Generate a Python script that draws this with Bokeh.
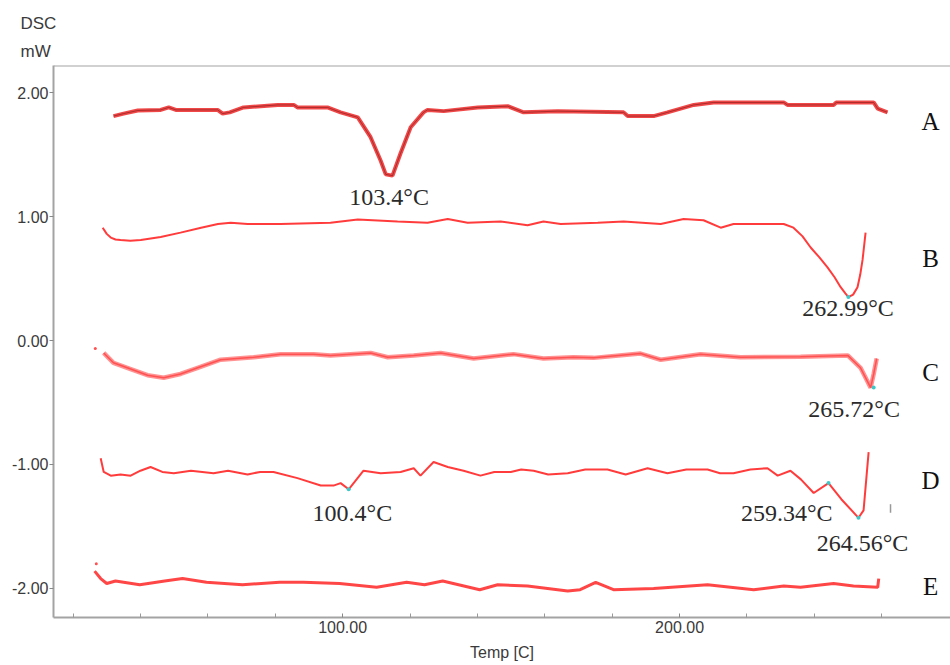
from bokeh.plotting import figure
from bokeh.models import Range1d, FixedTicker, PrintfTickFormatter, Span, Title
from bokeh.core.properties import value
from bokeh.embed import file_html
from bokeh.resources import INLINE

# ---------------- data (Temp [C], DSC mW) ----------------
a_temp = [32.0, 35.0, 39.2, 46.0, 48.4, 50.5, 62.9, 64.4, 66.5, 70.6, 80.7, 85.5, 86.6, 95.5, 99.4,
          104.5, 108.3, 111.3, 112.8, 114.8, 117.2, 120.2, 124.0, 125.2, 130.0, 140.1, 149.0, 153.7,
          163.8, 183.4, 184.6, 192.3, 196.4, 204.2, 210.1, 230.9, 232.0, 245.7, 246.5, 257.6, 258.8, 261.7]
a_mw = [1.81, 1.83, 1.855, 1.86, 1.88, 1.86, 1.86, 1.83, 1.84, 1.88, 1.90, 1.90, 1.88, 1.88, 1.84,
        1.80, 1.64, 1.45, 1.34, 1.33, 1.51, 1.72, 1.84, 1.86, 1.85, 1.88, 1.89, 1.84,
        1.85, 1.84, 1.81, 1.81, 1.84, 1.90, 1.92, 1.92, 1.90, 1.90, 1.92, 1.92, 1.87, 1.84]

b_temp = [28.8, 30.0, 31.2, 32.6, 34.1, 37.0, 40.1, 46.0, 51.9, 58.0, 63.0, 66.8, 71.8, 81.6, 96.4,
          104.5, 116.3, 125.2, 131.2, 137.1, 146.9, 154.9, 159.6, 164.7, 175.7, 183.4, 194.4, 201.2,
          207.1, 212.2, 216.0, 230.9, 233.8, 236.5, 238.9, 241.5, 243.9, 246.0, 247.8, 249.2, 250.1,
          251.5, 252.8, 253.6, 254.3, 255.2]
b_mw = [0.91, 0.86, 0.83, 0.815, 0.81, 0.805, 0.81, 0.835, 0.87, 0.91, 0.94, 0.95, 0.94, 0.94, 0.95,
        0.976, 0.96, 0.95, 0.98, 0.95, 0.96, 0.93, 0.96, 0.94, 0.95, 0.96, 0.94, 0.98,
        0.97, 0.91, 0.94, 0.94, 0.91, 0.84, 0.75, 0.67, 0.59, 0.51, 0.43, 0.38, 0.35,
        0.37, 0.43, 0.53, 0.65, 0.87]

c_temp = [29.1, 32.0, 37.1, 42.1, 46.9, 51.9, 57.0, 63.8, 73.6, 81.6, 91.4, 96.4, 108.3, 113.4,
          121.1, 129.1, 138.9, 150.7, 159.6, 168.5, 174.5, 188.4, 194.4, 206.2, 218.1, 235.9,
          249.9, 253.7, 256.7, 257.6, 258.5]
c_mw = [-0.10, -0.18, -0.23, -0.28, -0.30, -0.27, -0.22, -0.155, -0.135, -0.11, -0.11, -0.12, -0.10,
        -0.135, -0.12, -0.10, -0.145, -0.11, -0.145, -0.135, -0.14, -0.105, -0.155, -0.11, -0.135,
        -0.13, -0.12, -0.22, -0.38, -0.27, -0.145]

d_temp = [28.2, 29.1, 31.2, 34.1, 37.1, 40.0, 43.0, 46.5, 49.9, 55.0, 61.7, 66.0, 71.8, 75.5, 79.5,
          86.6, 93.5, 97.3, 99.4, 101.8, 106.2, 111.3, 117.2, 121.1, 123.1, 127.0, 131.2, 135.9,
          140.9, 145.0, 149.9, 153.0, 156.7, 161.0, 166.8, 172.0, 178.6, 184.0, 190.5, 196.4, 202.0,
          208.3, 212.0, 216.0, 221.0, 226.1, 229.1, 232.9, 236.0, 239.8, 244.2, 248.0, 253.1, 254.6, 256.1]
d_mw = [-0.95, -1.06, -1.09, -1.08, -1.09, -1.05, -1.02, -1.06, -1.07, -1.05, -1.07, -1.05, -1.08,
        -1.06, -1.06, -1.11, -1.17, -1.17, -1.15, -1.20, -1.05, -1.07, -1.06, -1.03, -1.09, -0.98,
        -1.02, -1.05, -1.09, -1.06, -1.06, -1.04, -1.05, -1.08, -1.07, -1.04, -1.04, -1.08, -1.03,
        -1.07, -1.04, -1.04, -1.07, -1.07, -1.04, -1.03, -1.09, -1.05, -1.12, -1.23, -1.15, -1.28,
        -1.43, -1.37, -0.90]

e_temp = [26.4, 28.2, 30.0, 32.6, 39.8, 47.2, 52.5, 59.6, 70.3, 81.3, 88.4, 99.1, 110.1, 119.0,
          124.3, 129.7, 140.7, 146.0, 154.9, 166.8, 170.5, 175.1, 180.4, 192.3, 208.3, 222.0, 230.9,
          235.9, 245.7, 251.6, 258.8, 259.1]
e_mw = [-1.86, -1.92, -1.96, -1.94, -1.97, -1.94, -1.92, -1.95, -1.97, -1.95, -1.95, -1.96, -1.99,
        -1.95, -1.97, -1.94, -2.01, -1.97, -1.98, -2.02, -2.01, -1.95, -2.01, -2.00, -1.97, -2.01,
        -1.98, -1.99, -1.96, -1.98, -1.99, -1.92]

stray_temp = [26.6, 26.9]
stray_mw = [-0.065, -1.80]

mark_temp = [262.6]
mark_lo = [-1.39]
mark_hi = [-1.32]

peak_temp = [250.1, 257.6, 101.8, 244.2, 253.1]
peak_mw = [0.35, -0.38, -1.20, -1.15, -1.43]

note_text = ["103.4°C", "262.99°C", "265.72°C", "100.4°C", "259.34°C", "264.56°C"]
note_temp = [113.8, 250.0, 251.8, 102.9, 231.8, 254.3]
note_mw = [1.16, 0.26, -0.55, -1.39, -1.39, -1.63]

curve_names = ["A", "B", "C", "D", "E"]
name_temp = [274.5, 274.5, 274.5, 274.5, 274.5]
name_mw = [1.77, 0.66, -0.26, -1.13, -1.98]

x_major = [100, 200]
x_minor = [20, 40, 60, 80, 120, 140, 160, 180, 220, 240, 260]
y_major = [-2, -1, 0, 1, 2]

# ---------------- figure ----------------
p = figure(width=950, height=665, output_backend="svg", toolbar_location=None,
           x_range=Range1d(14.2, 280.4), y_range=Range1d(-2.234, 2.218),
           min_border_left=53, min_border_right=0, min_border_top=65, min_border_bottom=48)
p.outline_line_color = None
p.xgrid.visible = False
p.ygrid.visible = False
p.background_fill_color = "white"
p.border_fill_color = "white"

frame_col = "#a3a3a3"
p.xaxis.ticker = FixedTicker(ticks=x_major, minor_ticks=x_minor)
p.yaxis.ticker = FixedTicker(ticks=y_major)
p.xaxis.formatter = PrintfTickFormatter(format="%.2f")
p.yaxis.formatter = PrintfTickFormatter(format="%.2f")
for ax in (p.xaxis, p.yaxis):
    ax.axis_line_color = frame_col
    ax.axis_line_width = 2
    ax.major_tick_line_color = "#888888"
    ax.minor_tick_line_color = "#999999"
    ax.major_label_text_font = "Liberation Sans"
    ax.major_label_text_font_size = "16px"
    ax.major_label_text_color = "#3a3a3a"
p.xaxis.major_tick_in = 4
p.xaxis.major_tick_out = 0
p.xaxis.minor_tick_in = 4
p.xaxis.minor_tick_out = 0
p.xaxis.major_label_standoff = 3
p.yaxis.major_tick_in = 0
p.yaxis.major_tick_out = 4
p.yaxis.minor_tick_line_color = None
p.yaxis.major_label_standoff = 1
p.xaxis.axis_label = "Temp [C]"
p.xaxis.axis_label_text_font = "Liberation Sans"
p.xaxis.axis_label_text_font_style = "normal"
p.xaxis.axis_label_text_font_size = "16px"
p.xaxis.axis_label_text_color = "#3a3a3a"
p.xaxis.axis_label_standoff = 8

p.add_layout(Span(location=2.218, dimension="width", line_color=frame_col, line_width=2))

# y-axis unit label above the frame, to the left
for t, so in [("mW", 9), ("DSC", 5)]:
    p.add_layout(Title(text=t, align="left", offset=-33, text_font="Liberation Sans",
                       text_font_size="17px", text_font_style="normal", text_color="#3a3a3a",
                       standoff=so), "above")

red = "#ff2626"
# A
p.line(a_temp, a_mw, line_color="#ee3434", line_width=4, line_alpha=0.9)
p.line(a_temp, a_mw, line_color="#5a0a0a", line_width=1, line_alpha=0.45)
# B
p.line(b_temp, b_mw, line_color=red, line_width=2, line_alpha=0.9)
# C
p.line(c_temp, c_mw, line_color=red, line_width=4.5, line_alpha=0.5)
p.line(c_temp, c_mw, line_color=red, line_width=1.5, line_alpha=0.6)
# D
p.line(d_temp, d_mw, line_color=red, line_width=2, line_alpha=0.9)
# E
p.line(e_temp, e_mw, line_color=red, line_width=3, line_alpha=0.85)

p.scatter(stray_temp, stray_mw, size=3, color=red, line_color=None, alpha=0.8)
p.scatter(peak_temp, peak_mw, size=4, color="#3cc8c8", line_color=None)
p.segment(mark_temp, mark_lo, mark_temp, mark_hi, line_color="#999999", line_width=1.5)

p.text(note_temp, note_mw, text=note_text, text_font=value("Liberation Serif"),
       text_font_size="24px", text_color="#2a2a2a", text_align="center", text_baseline="middle")
p.text(name_temp, name_mw, text=curve_names, text_font=value("Liberation Serif"),
       text_font_size="25px", text_color="#111111", text_align="center", text_baseline="middle")

open("out.html", "w").write(file_html(p, INLINE))
